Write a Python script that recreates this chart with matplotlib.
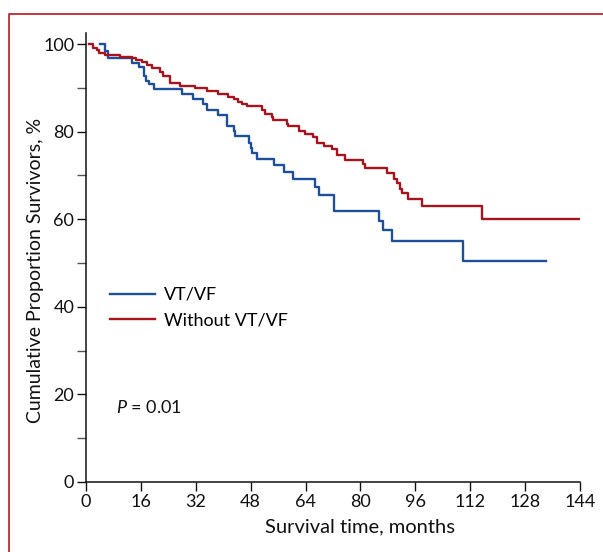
import matplotlib
matplotlib.use("Agg")
import matplotlib.pyplot as plt
from matplotlib.lines import Line2D
import numpy as np

# ---- data ----
red_t = [0.8, 2.1, 3.1, 3.9, 5.5, 9.9, 13.3, 14.6, 16.2, 17.7, 19.2, 21.6, 22.5, 24.5,
         27.4, 31.8, 35.2, 38.6, 41.5, 43.0, 44.3, 45.4, 47.0, 51.2, 52.2, 54.1, 54.6,
         58.5, 59.0, 62.1, 63.8, 66.3, 67.3, 69.4, 71.8, 73.3, 75.5, 80.6, 81.2, 87.8,
         89.8, 90.8, 91.4, 92.0, 94.0, 97.9, 115.5, 144.0]
red_s = [100, 99.2, 98.6, 98.0, 97.5, 97.0, 96.7, 96.3, 95.8, 95.1, 94.6, 93.7, 92.7, 91.2,
         90.4, 89.9, 89.2, 88.6, 88.0, 87.4, 86.7, 86.3, 85.8, 85.0, 84.0, 83.3, 82.6,
         81.8, 81.2, 80.2, 79.5, 78.7, 77.5, 76.6, 76.0, 74.6, 73.6, 72.6, 71.6, 70.5,
         69.2, 68.2, 67.0, 65.9, 64.5, 63.1, 60.0, 60.0]

blue_t = [4.0, 5.5, 6.4, 13.5, 15.5, 16.9, 17.5, 18.4, 19.8, 28.0, 31.1, 34.0, 35.4, 38.6,
          41.0, 43.0, 43.4, 47.5, 48.0, 48.5, 49.9, 54.9, 57.7, 60.4, 66.8, 68.0, 72.4,
          85.4, 86.5, 89.1, 110.0, 134.0]
blue_s = [100, 98.3, 96.8, 95.6, 94.7, 92.8, 91.6, 90.9, 89.7, 88.6, 87.4, 86.2, 85.0, 83.8,
          81.3, 80.1, 78.9, 77.5, 76.2, 75.1, 73.8, 72.4, 70.8, 69.1, 67.4, 65.6, 61.9,
          59.7, 57.6, 55.0, 50.5, 50.5]

series_labels = ["VT/VF", "Without VT/VF"]
x_ticks = list(range(0, 145, 16))
y_ticks = [0, 20, 40, 60, 80, 100]
y_minor = [10, 30, 50, 70, 90]

FONT = "Lato"
plt.rcParams['font.family'] = [FONT, 'DejaVu Sans']
plt.rcParams['mathtext.fontset'] = 'custom'
plt.rcParams['mathtext.it'] = FONT + ':italic'
plt.rcParams['mathtext.rm'] = FONT

W, H = 603, 552
fig = plt.figure(figsize=(W / 100, H / 100), dpi=100)

x0, x1 = 86, 580
y0 = 482
ppy = 4.38
ytop = 102.5
ax_h = ytop * ppy
ax = fig.add_axes([x0 / W, (H - y0) / H, (x1 - x0) / W, ax_h / H])

BLUE = "#1f4f99"
RED = "#a8141e"

ax.step(blue_t, blue_s, where='post', color=BLUE, lw=1.7, label=series_labels[0])
ax.step(red_t, red_s, where='post', color=RED, lw=1.7, label=series_labels[1])

ax.set_xlim(0, 144)
ax.set_ylim(0, ytop)
for s in ['top', 'right']:
    ax.spines[s].set_visible(False)
for s in ['left', 'bottom']:
    ax.spines[s].set_linewidth(1.1)
    ax.spines[s].set_color('#111111')

ax.set_xticks(x_ticks)
ax.set_yticks(y_ticks)
ax.set_yticks(y_minor, minor=True)
ax.tick_params(axis='both', which='major', direction='out', length=6.5, width=1.0,
               labelsize=13, colors='#111111', pad=2)
ax.tick_params(axis='y', which='minor', direction='out', length=6.5, width=1.0, color='#555555')

ax.set_xlabel("Survival time, months", fontsize=14.5, color='#111111')
ax.set_ylabel("Cumulative Proportion Survivors, %", fontsize=14, color='#111111')
ax.xaxis.set_label_coords((360 - x0) / (x1 - x0), (y0 - 518) / ax_h)
ax.yaxis.set_label_coords((44 - x0) / (x1 - x0), (y0 - 270) / ax_h)

leg = ax.legend(loc='upper left', bbox_to_anchor=((110 - x0) / (x1 - x0), (y0 - 287) / ax_h),
                frameon=False, fontsize=13, handlelength=2.5, handletextpad=0.5,
                labelspacing=0.5, borderpad=0, borderaxespad=0)

ax.text(8.7, 16.9, "$P$ = 0.01", fontsize=13, ha='left', va='center', color='#111111')

# red frame (left and top edges visible)
bx, by = 9 / W, 1 - 14 / H
fig.add_artist(Line2D([bx, bx, 1.0], [0.0, by, by], transform=fig.transFigure,
                      color="#c0272d", lw=1.3))

fig.savefig("out.png", dpi=100)
